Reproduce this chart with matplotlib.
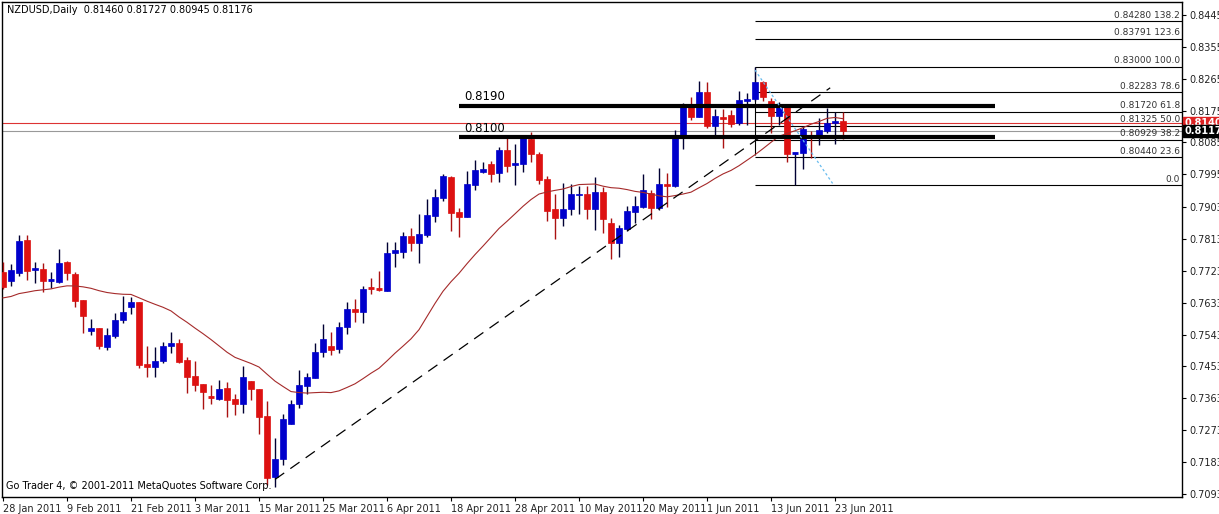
import matplotlib
matplotlib.use("Agg")
import matplotlib.pyplot as plt
import numpy as np

opens = [.7720,.7695,.7717,.7810,.7726,.7728,.7695,.7692,.7748,.7714,.7641,.7553,.7562,.7508,.7539,.7584,.7621,.7635,.7460,.7452,
         .7469,.7511,.7519,.7471,.7426,.7404,.7367,.7361,.7392,.7361,.7347,.7412,.7390,.7313,.7141,.7192,.7291,.7347,.7398,.7421,
         .7494,.7511,.7502,.7565,.7615,.7607,.7675,.7672,.7666,.7774,.7776,.7822,.7802,.7824,.7878,.7929,.7988,.7889,.7875,.7966,
         .8002,.8025,.7999,.8064,.8022,.8025,.8096,.8053,.7983,.7898,.7872,.7898,.7937,.7940,.7898,.7946,.7858,.7802,.7841,.7889,
         .7903,.7943,.7901,.7968,.7963,.8098,.8186,.8158,.8228,.8132,.8158,.8163,.8141,.8203,.8208,.8256,.8203,.8160,.8186,.8053,
         .8056,.8101,.8101,.8118,.8141,.81460]
highs = [.7748,.7743,.7824,.7824,.7748,.7745,.7720,.7785,.7751,.7720,.7641,.7587,.7562,.7562,.7604,.7652,.7649,.7635,.7511,.7508,
         .7522,.7550,.7531,.7480,.7469,.7404,.7401,.7415,.7409,.7375,.7454,.7412,.7390,.7356,.7251,.7319,.7358,.7443,.7435,.7519,
         .7573,.7550,.7579,.7635,.7644,.7680,.7703,.7723,.7805,.7805,.7833,.7844,.7884,.7926,.7954,.7997,.7991,.7901,.8005,.8036,
         .8031,.8033,.8073,.8101,.8081,.8104,.8115,.8059,.7991,.7940,.7971,.7968,.7963,.7963,.7988,.7960,.7872,.7853,.7906,.7935,
         .7997,.7951,.8014,.7999,.8121,.8197,.8214,.8259,.8256,.8180,.8180,.8177,.8231,.8225,.8300,.8259,.8211,.8200,.8192,.8056,
         .8132,.8118,.8155,.8183,.8172,.81727]
lows = [.7672,.7680,.7709,.7697,.7689,.7663,.7675,.7689,.7697,.7621,.7548,.7542,.7502,.7500,.7533,.7576,.7601,.7449,.7423,.7423,
        .7463,.7491,.7463,.7378,.7384,.7333,.7347,.7358,.7310,.7316,.7322,.7358,.7262,.7118,.7113,.7175,.7291,.7336,.7375,.7421,
        .7480,.7486,.7491,.7545,.7579,.7576,.7658,.7666,.7666,.7734,.7759,.7779,.7745,.7819,.7861,.7920,.7836,.7819,.7875,.7951,
        .7999,.7974,.7974,.8002,.7966,.8002,.8031,.7968,.7864,.7813,.7850,.7881,.7884,.7870,.7839,.7830,.7757,.7762,.7836,.7858,
        .7901,.7870,.7895,.7903,.7960,.8067,.8149,.8158,.8127,.8104,.8070,.8129,.8135,.8135,.8203,.8203,.8112,.8135,.8031,.7965,
        .8011,.8042,.8079,.8112,.8081,.80945]
closes = [.7678,.7726,.7807,.7723,.7731,.7695,.7697,.7745,.7717,.7638,.7596,.7562,.7511,.7542,.7584,.7607,.7635,.7457,.7452,.7469,
          .7511,.7519,.7466,.7423,.7401,.7381,.7364,.7390,.7358,.7347,.7423,.7390,.7310,.7138,.7192,.7305,.7347,.7401,.7423,.7494,
          .7531,.7500,.7565,.7615,.7607,.7672,.7672,.7669,.7774,.7782,.7822,.7802,.7827,.7881,.7932,.7991,.7887,.7875,.7968,.8008,
          .8011,.7997,.8064,.8019,.8028,.8098,.8053,.7980,.7892,.7872,.7898,.7940,.7940,.7898,.7946,.7870,.7802,.7844,.7892,.7906,
          .7951,.7901,.7968,.7963,.8098,.8186,.8158,.8228,.8132,.8160,.8152,.8138,.8206,.8208,.8256,.8214,.8160,.8186,.8053,.8056,
          .8124,.8098,.8121,.8141,.8146,.81176]
ma_start = 0.7645   # level of the 20-day average before the first visible bar
ma_period = 20

date_labels = ["28 Jan 2011","9 Feb 2011","21 Feb 2011","3 Mar 2011","15 Mar 2011","25 Mar 2011","6 Apr 2011",
               "18 Apr 2011","28 Apr 2011","10 May 2011","20 May 2011","1 Jun 2011","13 Jun 2011","23 Jun 2011"]
price_ticks = [0.84456,0.83556,0.82656,0.81756,0.80856,0.79956,0.79031,0.78131,0.77231,0.76331,0.75431,0.74531,
               0.73631,0.72731,0.71831,0.70931]
fib_prices = [0.84280,0.83791,0.83000,0.82283,0.81720,0.81325,0.80929,0.80440,0.79649]
fib_pcts = ["138.2","123.6","100.0","78.6","61.8","50.0","38.2","23.6","0.0"]
levels = [0.8190, 0.8100]
ask, bid = 0.81406, 0.81176
trend_x = [34, 103.4]
trend_y = [0.7134, 0.8240]

W, H = 1219, 514
fig = plt.figure(figsize=(W/100, H/100), dpi=100)
ax = fig.add_axes([2/W, 17/H, 1180/W, 495/H])
n = len(closes)
x = np.arange(n)
YLO, YHI = 0.70844, 0.84823
ax.set_xlim(-0.125, 147.375)
ax.set_ylim(YLO, YHI)

blue, red = "#0000cc", "#dd1111"
for i in range(n):
    o, h, l, c = opens[i], highs[i], lows[i], closes[i]
    up = c >= o
    col = blue if up else red
    wcol = "#000033" if up else "#aa1111"
    ax.vlines(i, l, h, color=wcol, lw=1, zorder=3)
    bot, top = min(o, c), max(o, c)
    if top - bot < 0.0003:
        ax.hlines((o + c) / 2, i - 0.35, i + 0.35, color=col, lw=2, zorder=4)
    else:
        ax.bar(i, top - bot, bottom=bot, width=0.65, color=col, edgecolor=col, lw=0.5, zorder=4)

# 20-period simple moving average
ma = []
for i in range(n):
    window = closes[max(0, i - ma_period + 1):i + 1]
    missing = ma_period - len(window)
    ma.append((sum(window) + missing * ma_start) / ma_period)
ax.plot(x, ma, color="#a52a2a", lw=0.8, zorder=5)

ax.axhline(ask, color="#dd3333", lw=0.8, zorder=2)
ax.axhline(bid, color="#999999", lw=0.8, zorder=2)

for lv in levels:
    ax.hlines(lv, 57, 124, color="black", lw=3, zorder=6)
    ax.text(57.6, lv + 0.0007, f"{lv:.4f}", fontsize=8.5, color="black", va="bottom", ha="left", zorder=7)

fx0 = 94
for p, t in zip(fib_prices, fib_pcts):
    ax.hlines(p, fx0, 147.4, color="black", lw=0.8, zorder=2)
    label = (f"{p:.5f} {t}" if t != "0.0" else t)
    ax.text(147.1, p + 0.0004, label, fontsize=6.5, color="#333333", ha="right", va="bottom", zorder=7)
ax.vlines(fx0, fib_prices[-1] + 0.0085, fib_prices[2], color="black", lw=0.8, zorder=2)
ax.plot([94, 103.7], [highs[94] - 0.001, lows[99] + 0.0005], color="#66bbee", lw=0.9, ls=(0, (2, 2)), zorder=6)

ax.plot(trend_x, trend_y, color="black", lw=0.9, ls=(0, (9, 6)), zorder=6)

ax.yaxis.tick_right()
ax.set_yticks(price_ticks)
ax.set_yticklabels([f"{v:.5f}" for v in price_ticks], fontsize=7, color="#222222")
ax.tick_params(axis="y", length=3, pad=2)
ax.set_xticks(x[::8][:len(date_labels)])
ax.set_xticklabels(date_labels, fontsize=7, ha="left", color="#222222")
ax.tick_params(axis="x", length=3, pad=2)
for s in ax.spines.values():
    s.set_linewidth(1)

for val, fc in [(ask, "#dd2222"), (bid, "black")]:
    ax.text(1.002, (val - YLO) / (YHI - YLO), f"{val:.5f}", transform=ax.transAxes,
            fontsize=7, color="white", fontweight="bold", va="center", ha="left",
            bbox=dict(boxstyle="square,pad=0.1", fc=fc, ec=fc), zorder=10, clip_on=False)

ax.text(0.004, 0.993, "NZDUSD,Daily  0.81460 0.81727 0.80945 0.81176", transform=ax.transAxes,
        fontsize=7, va="top", ha="left")
ax.text(0.003, 0.012, "Go Trader 4, © 2001-2011 MetaQuotes Software Corp.", transform=ax.transAxes,
        fontsize=7, va="bottom", ha="left")

fig.savefig("out.png", dpi=100)
